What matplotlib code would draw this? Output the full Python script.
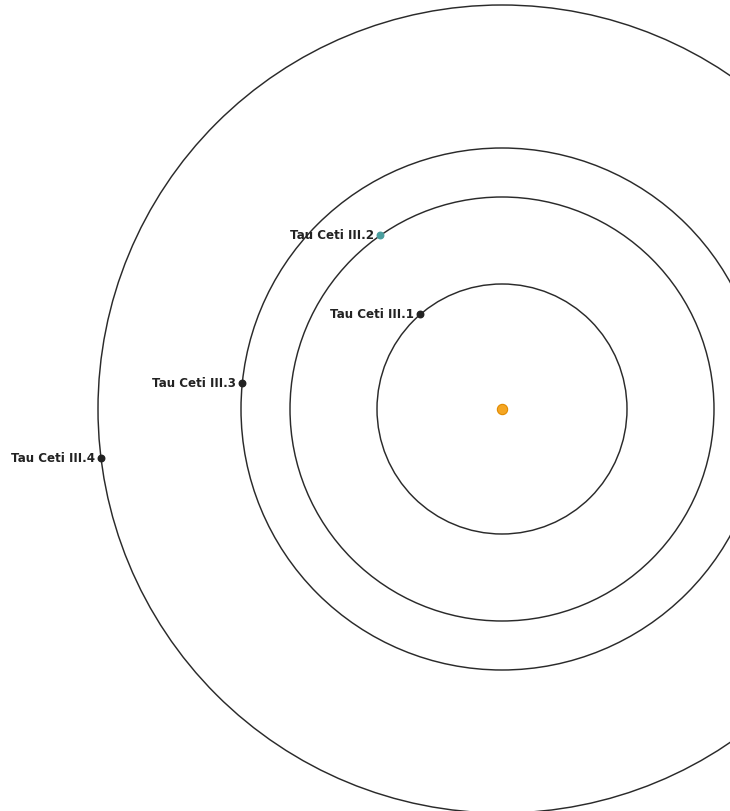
import matplotlib.pyplot as plt
from matplotlib.patches import Circle
import numpy as np

# orbit data (radius in px-like units, angle in degrees, counter-clockwise from +x)
planets = ['Tau Ceti III.1', 'Tau Ceti III.2', 'Tau Ceti III.3', 'Tau Ceti III.4']
radii = [125, 212, 261, 404]
angles = [130.7, 125.0, 174.3, 187.0]
colors = ['#222222', '#4a9e9e', '#222222', '#222222']

star_x, star_y = 502, 402  # centre in axes coords (y up)

fig = plt.figure(figsize=(7.3, 8.11), dpi=100)
ax = fig.add_axes([0, 0, 1, 1])
ax.set_xlim(0, 730)
ax.set_ylim(0, 811)
ax.set_aspect('equal')
ax.axis('off')

for r in radii:
    ax.add_patch(Circle((star_x, star_y), r, fill=False, edgecolor='#2a2a2a', lw=1.05))

ax.scatter([star_x], [star_y], s=55, color='#f5a623', edgecolor='#e08a00', lw=0.8, zorder=5)

for name, r, a, c in zip(planets, radii, angles, colors):
    px = star_x + r * np.cos(np.radians(a))
    py = star_y + r * np.sin(np.radians(a))
    ax.scatter([px], [py], s=22, color=c, zorder=5)
    ax.text(px - 6, py, name, ha='right', va='center', fontsize=8.6,
            fontweight='bold', color='#222222', family='DejaVu Sans')

fig.savefig('out.png', dpi=100)
